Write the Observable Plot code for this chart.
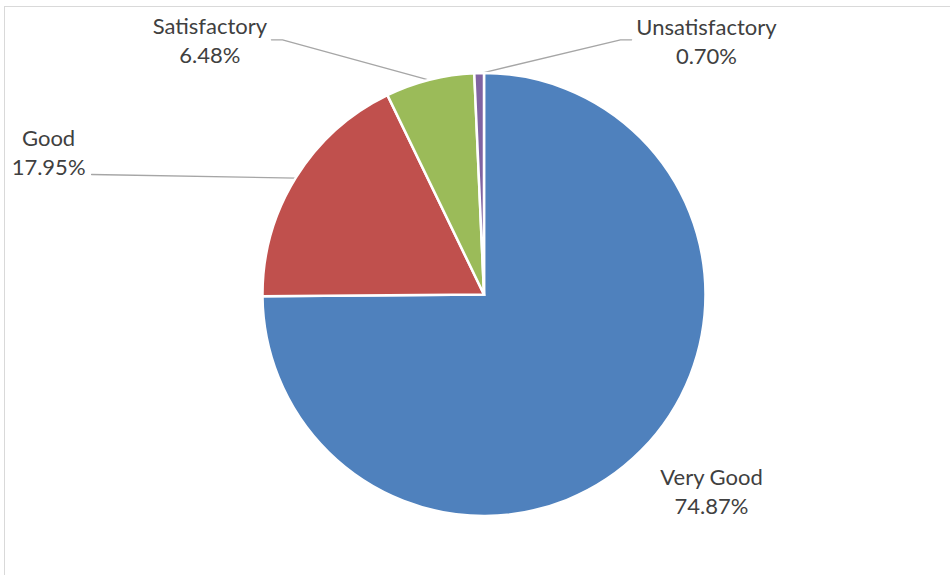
<!DOCTYPE html>
<html><head><meta charset="utf-8">
<script src="https://cdn.jsdelivr.net/npm/d3@7"></script>
<script src="https://cdn.jsdelivr.net/npm/@observablehq/plot@0.6"></script>
<style>
html,body{margin:0;padding:0;background:#fff;}
#wrap{position:relative;width:950px;height:575px;overflow:hidden;}
#chart{position:absolute;left:0;top:0;}
#border{position:absolute;left:4px;top:6px;width:1000px;height:1000px;border:1.5px solid #d9d9d9;box-sizing:border-box;pointer-events:none;}
</style></head><body>
<div id="wrap"><div id="chart"></div><div id="border"></div></div>
<script>
// ---- data ----
const categories = ["Very Good", "Good", "Satisfactory", "Unsatisfactory"];
const shares = [74.87, 17.95, 6.48, 0.70];
const colors = ["#4F81BD", "#C0504D", "#9BBB59", "#8064A2"];

// ---- label layout (in pie-radius units, v axis up) ----
const labelU = [1.025, -1.968, -1.240, 1.002];
const labelV = [-0.881, 0.650, 1.153, 1.151];
const leaderStart = [null, [-1.774, 0.544], [-0.962, 1.152], [0.664, 1.152]];
const leaderElbow = [null, null, [-0.912, 1.152], [0.614, 1.152]];

const rows = categories.map((c, i) => ({category: c, share: shares[i], color: colors[i], i}));
const arcs = d3.pie().sort(null).value(d => d.share)(rows);

const labels = rows.map((d, i) => ({
  u: labelU[i], v: labelV[i],
  text: `${d.category}\n${d.share.toFixed(2)}%`
}));

const leaders = [];
arcs.forEach((a, i) => {
  if (!leaderStart[i]) return;
  const mid = (a.startAngle + a.endAngle) / 2;
  const pts = [leaderStart[i]];
  if (leaderElbow[i]) pts.push(leaderElbow[i]);
  pts.push([Math.sin(mid), Math.cos(mid)]);
  pts.forEach(p => leaders.push({k: categories[i], u: p[0], v: p[1]}));
});

function pieMark(index, scales) {
  const cx = scales.x(0), cy = scales.y(0), r = scales.x(1) - scales.x(0);
  const g = d3.create("svg:g").attr("transform", `translate(${cx},${cy})`);
  const arc = d3.arc().innerRadius(0).outerRadius(r);
  g.selectAll("path").data(arcs).join("path")
    .attr("d", arc)
    .attr("fill", d => d.data.color)
    .attr("stroke", "#ffffff")
    .attr("stroke-width", 2.5)
    .attr("stroke-linejoin", "miter");
  return g.node();
}

const chart = Plot.plot({
  width: 950,
  height: 575,
  marginTop: 0, marginRight: 0, marginBottom: 0, marginLeft: 0,
  style: {background: "transparent", fontFamily: "Lato"},
  x: {domain: [-1, 1], range: [262.5, 705.5], axis: null},
  y: {domain: [-1, 1], range: [516, 73], axis: null},
  marks: [
    Plot.line(leaders, {x: "u", y: "v", z: "k", stroke: "#A6A6A6", strokeWidth: 1.3}),
    pieMark,
    Plot.text(labels, {x: "u", y: "v", text: "text", fill: "#404040", fontSize: 22,
      fontFamily: "Lato", lineHeight: 1.32, textAnchor: "middle"})
  ]
});
document.getElementById("chart").appendChild(chart);
</script>
</body></html>
